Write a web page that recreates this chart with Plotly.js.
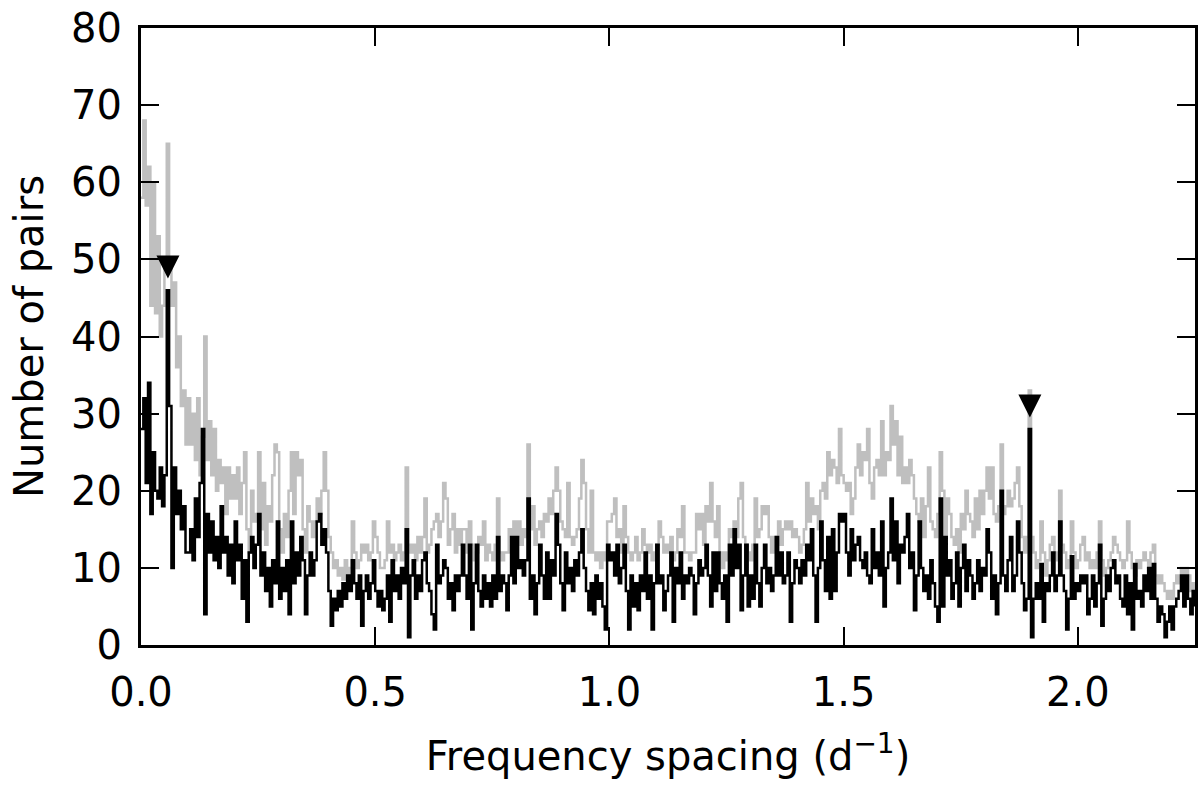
<!DOCTYPE html>
<html>
<head>
<meta charset="utf-8">
<script src="https://cdn.plot.ly/plotly-3.0.1.min.js"></script>
<style>html,body{margin:0;padding:0;background:#fff;}#chart{width:1200px;height:788px;}</style>
</head>
<body>
<div id="chart"></div>
<script>
// Histogram bins: start and width of each bin (d^-1)
const binStart = 0.0;
const binWidth = 0.005;

// Grey series: all pairs (one value per bin, 0.000 ... 2.250)
const greyCounts = [
  58,68,57,62,44,60,43,53,40,44,50,65,50,44,47,36,40,31,33,26,
  32,26,30,24,32,22,27,40,24,29,22,28,20,24,21,23,17,23,19,22,
  19,23,17,21,25,15,12,20,16,17,25,15,21,13,18,16,22,26,25,15,
  12,17,14,20,25,17,25,22,24,15,12,18,16,14,16,19,17,20,25,20,
  14,12,10,11,9,10,8.5,11,9,10,16,12,10,11,13,12,13,11,12,16,
  14,12,10,10,11,16,12,13,11,12,13,11,12,23,13,12,13,11,14,12,
  14,19,12,13,15,16,17,14,16,21,19,13,15,17,12,15,13,15,15,12,
  16,13,11,12,14,13,16,11,13,12,11,13,19,12,11,12,12,15,13,16,
  14,16,13,15,14,26,15,18,13,15,16,14,17,16,19,17,20,23,20,16,
  15,14,21,14,13,14,15,19,24,21,15,12,20,12,11,12,10,12,11,16,
  16,17,19,14,15,12,18,14,12,11,12,14,11,12,15,13,12,13,11,12,
  13,16,14,12,13,12,14,11,12,15,14,18,12,12,11,12,12,17,15,17,
  13,18,16,21,16,14,18,12,10,12,11,15,14,16,14,19,21,14,13,12,
  11,13,19,14,15,18,17,18,14,12,14,12,16,13,15,16,15,16,14,15,
  14,12,13,15,21,16,19,17,18,15,20,21,19,25,22,24,23,21,28,22,
  21,20,21,17,19,23,26,22,25,24,28,21,19,23,24,22,29,22,25,24,
  31,26,29,22,27,21,23,21,24,22,19,17,16,19,14,18,23,16,15,14,
  17,25,20,14,19,17,14,13,15,12,17,15,20,17,16,14,19,15,20,17,
  20,23,19,23,17,16,18,26,17,18,20,18,19,21,23,18,14,12,14,33,
  14,12,10,11,16,12,9,11,13,14,12,11,20,13,12,10,11,16,12,10,
  11,13,14,11,12,10,11,10,12,16,11,9,10,11,12,14,13,12,11,10,
  11,16,12,10,9,11,10,11,12,11,10,12,13,9,8,9,8,7,6,7,
  6,8,9,8,10,8,10,9,7,8,6
];

// Black series: selected pairs (one value per bin, 0.000 ... 2.250)
const blackCounts = [
  28,32,21,34,17,25,20,19,23,18,22,46,31,10,23,17,20,15,18,12,
  12,15,11,19,14,21,28,4,17,12,16,11,14,10,18,12,14,9,13,8,
  16,11,13,6,11,3,12,14,10,13,17,9,12,7,10,5,11,8,16,6,
  10,7,11,4,16,8,12,9,14,11,4,9,12,9,11,16,17,13,15,12,
  7,2.5,6,4.5,7,5,8,6,9,7,11,8,6,9,2.5,7,9,6,8,11,
  7,5,7,4.5,6,9,3,11,7,9,6,10,8,15,1,9,11,6,9,7,
  11,12,8,7,4,2,13,8,9,11,10,6,8,4.5,9,7,9,13,9,6,
  13,2,8,13,7,5,9,6,8,5,9,6,14,7,9,8,4.5,9,14,8,
  14,10,11,9,11,19,6,9,4,8,13,9,6,12,6,11,9,17,13,8,
  4.5,12,8,10,7,11,9,12,15,10,7,4.5,8,4,9,6,8,5,2,13,
  11,12,9,13,8,10,13,7,2,9,5,8,4.5,9,7,12,6,9,2,8,
  13,8,9,4.5,7,9,12,3,10,8,12,6,9,8,10,9,4,8,11,9,
  10,13,9,5,12,7,12,8,6,9,3,13,9,15,10,13,4.5,9,13,5,
  9,6,13,8,5,10,13,8,10,7,9,14,9,12,8,9,12,3,8,11,
  10,8,11,9,13,11,15,9,3,10,16,11,7,14,6,15,7,12,17,16,
  17,12,9,15,11,13,14,11,10,12,9,8,15,10,12,9,16,5,10,12,
  19,11,16,8,13,12,14,17,10,12,4.5,9,16,10,7,9,6,11,8,5,
  3,19,5,14,9,11,6,8,12,5,10,13,7,11,9,6,8,11,7,10,
  9,15,12,6,9,4,8,20,9,7,11,14,7,9,16,12,8,4.5,6,28,
  1,6,8,6,10.5,3,8,7,9,12,7,9,16,9,7,2,6,11.5,6,8,
  7,9,8,9,4,6,9,5,8,13,2.5,6,9,7,10,11,8,9,6,5,
  9,4,8,2,10.5,6,7,5,9,7,10,6,10.5,6,3,5,4,1,3,5,
  2,5,6,7,9,5,9,6,4,7,5
];

// Marked peaks (triangles)
const peakX = [0.0575, 1.8975];
const peakY = [49, 31];

const xTickVals = [0.0, 0.5, 1.0, 1.5, 2.0];
const xTickText = ['0.0', '0.5', '1.0', '1.5', '2.0'];
const yTickVals = [0, 10, 20, 30, 40, 50, 60, 70, 80];

const binX = greyCounts.map((_, i) => +(binStart + i * binWidth).toFixed(4));

const traces = [
  {x: binX, y: greyCounts, type: 'scatter', mode: 'lines',
   line: {color: '#bfbfbf', width: 2.5, shape: 'hv'}, hoverinfo: 'skip'},
  {x: binX, y: blackCounts, type: 'scatter', mode: 'lines',
   line: {color: '#000000', width: 2.5, shape: 'hv'}, hoverinfo: 'skip'}
];

// Downward triangle markers (matplotlib 'v' style, equal width and height),
// anchored at the peak data positions and sized in pixels.
const triPath = 'M-11.5,11.5 L11.5,11.5 L0,-11.5 Z';
const peakShapes = peakX.map((px, i) => ({
  type: 'path', xref: 'x', yref: 'y',
  xsizemode: 'pixel', ysizemode: 'pixel',
  xanchor: px, yanchor: peakY[i],
  path: triPath, fillcolor: '#000000', line: {width: 0}, layer: 'above'
}));

const fontFam = '"DejaVu Sans", "Liberation Sans", sans-serif';

const layout = {
  width: 1200, height: 788,
  paper_bgcolor: '#ffffff', plot_bgcolor: '#ffffff',
  showlegend: false,
  margin: {l: 141, r: 5, t: 28, b: 143, pad: 0},
  font: {family: fontFam, size: 40, color: '#000'},
  shapes: peakShapes,
  xaxis: {
    range: [0, 2.25], autorange: false,
    tickmode: 'array', tickvals: xTickVals, ticktext: xTickText,
    ticks: 'inside', ticklen: 18, tickwidth: 2, tickcolor: '#000',
    showline: true, linewidth: 3, linecolor: '#000', mirror: 'ticks',
    showgrid: false, zeroline: false,
    tickfont: {family: fontFam, size: 40, color: '#000'},
    ticklabelstandoff: 10,
    title: {text: 'Frequency spacing (d<sup>\u22121</sup>)', font: {family: fontFam, size: 40, color: '#000'}, standoff: 28}
  },
  yaxis: {
    range: [0, 80], autorange: false,
    tickmode: 'array', tickvals: yTickVals,
    ticks: 'inside', ticklen: 18, tickwidth: 2, tickcolor: '#000',
    showline: true, linewidth: 3, linecolor: '#000', mirror: 'ticks',
    showgrid: false, zeroline: false,
    tickfont: {family: fontFam, size: 40, color: '#000'},
    ticklabelstandoff: 8,
    title: {text: 'Number of pairs', font: {family: fontFam, size: 40, color: '#000'}, standoff: 16}
  }
};

Plotly.newPlot('chart', traces, layout, {staticPlot: true, displayModeBar: false});
</script>
</body>
</html>
